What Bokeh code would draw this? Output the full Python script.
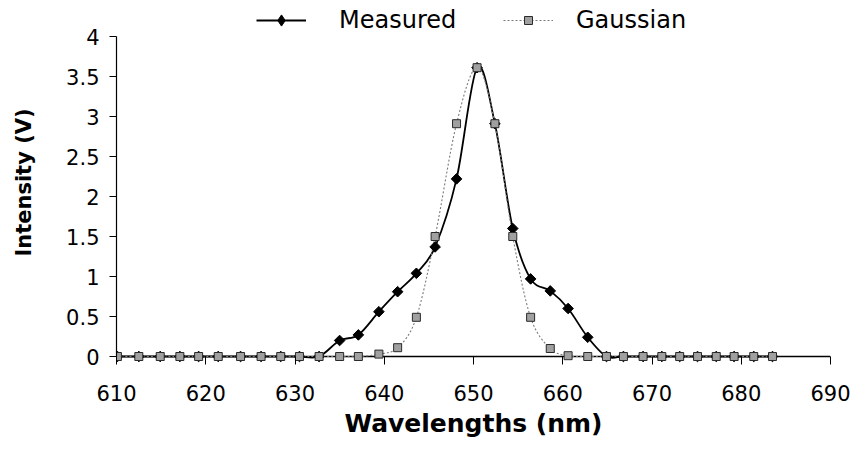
import numpy as np
from bokeh.plotting import figure
from bokeh.models import (Range1d, FixedTicker, NumeralTickFormatter, Legend,
                          LegendItem, ColumnDataSource)
from bokeh.embed import file_html
from bokeh.resources import INLINE

# Emission spectrum: measured intensity and fitted Gaussian (volts vs nm)
wavelength = [610.1, 612.5, 614.9, 617.1, 619.2, 621.4, 623.9, 626.2, 628.4,
              630.5, 632.7, 635.0, 637.1, 639.4, 641.5, 643.6, 645.7, 648.1,
              650.4, 652.4, 654.4, 656.4, 658.6, 660.6, 662.8, 664.9, 666.8,
              669.0, 671.1, 673.1, 675.1, 677.2, 679.2, 681.4, 683.5]
measured = [0, 0, 0, 0, 0, 0, 0, 0, 0, 0, 0, 0.20, 0.27, 0.56, 0.81, 1.04,
            1.37, 2.22, 3.61, 2.91, 1.60, 0.97, 0.82, 0.60, 0.24, 0, 0, 0, 0,
            0, 0, 0, 0, 0, 0]
gaussian = [0, 0, 0, 0, 0, 0, 0, 0, 0, 0, 0, 0, 0, 0.03, 0.11, 0.49, 1.50,
            2.91, 3.61, 2.91, 1.50, 0.49, 0.10, 0.01, 0, 0, 0, 0, 0, 0, 0, 0,
            0, 0, 0]
x_ticks = [610, 620, 630, 640, 650, 660, 670, 680, 690]
y_ticks = [0, 0.5, 1, 1.5, 2, 2.5, 3, 3.5, 4]

FONT = "DejaVu Sans"


def smooth_source(x, y):
    """Cubic Bezier segments (Catmull-Rom style) through the given points."""
    x = np.asarray(x, float)
    y = np.asarray(y, float)
    n = len(x)
    px = np.concatenate([[x[0]], x, [x[-1]]])
    py = np.concatenate([[y[0]], y, [y[-1]]])
    return ColumnDataSource(dict(
        x0=x[:-1], y0=y[:-1], x1=x[1:], y1=y[1:],
        cx0=px[1:n] + (px[2:n + 1] - px[0:n - 1]) / 6,
        cy0=py[1:n] + (py[2:n + 1] - py[0:n - 1]) / 6,
        cx1=px[2:n + 1] - (px[3:n + 2] - px[1:n]) / 6,
        cy1=py[2:n + 1] - (py[3:n + 2] - py[1:n]) / 6,
    ))


# the frame reaches the top edge so the legend can sit inside it
p = figure(width=856, height=452,
           x_range=Range1d(x_ticks[0], x_ticks[-1]), y_range=Range1d(-0.1, 4.45),
           output_backend="svg", toolbar_location=None,
           min_border_left=116, min_border_right=26,
           min_border_top=0, min_border_bottom=88)
p.grid.visible = False
p.outline_line_color = None
p.background_fill_color = "white"
p.border_fill_color = "white"

# horizontal axis line at zero intensity
p.segment(x0=x_ticks[0], x1=x_ticks[-1], y0=0, y1=0,
          line_color="black", line_width=1.5)

# curves
m_curve = p.bezier(x0="x0", y0="y0", x1="x1", y1="y1", cx0="cx0", cy0="cy0",
                   cx1="cx1", cy1="cy1", source=smooth_source(wavelength, measured),
                   line_color="black", line_width=1.8)
g_curve = p.bezier(x0="x0", y0="y0", x1="x1", y1="y1", cx0="cx0", cy0="cy0",
                   cx1="cx1", cy1="cy1", source=smooth_source(wavelength, gaussian),
                   line_color="#7a7a7a", line_width=1.1, line_dash="2 2")

# markers; the small diamonds sit under the rotated squares and give the
# legend its diamond key
m_key = p.scatter(wavelength, measured, marker="diamond", size=6,
                  fill_color="black", line_color="black")
m_pts = p.scatter(wavelength, measured, marker="square", angle=np.pi / 4,
                  size=7.5, fill_color="black", line_color="black")
g_pts = p.scatter(wavelength, gaussian, marker="square", size=8,
                  fill_color="#a0a0a0", line_color="#2a2a2a", line_width=1)

# axes
xa = p.xaxis[0]
xa.ticker = FixedTicker(ticks=x_ticks)
xa.axis_label = "Wavelengths (nm)"
xa.major_tick_in = 8
xa.major_tick_out = 0
ya = p.yaxis[0]
ya.bounds = (0, 4)
ya.ticker = FixedTicker(ticks=y_ticks)
ya.formatter = NumeralTickFormatter(format="0.[0]")
ya.axis_label = "Intensity (V)"
ya.major_tick_in = 0
ya.major_tick_out = 7

for ax in (xa, ya):
    ax.major_tick_line_color = "black"
    ax.minor_tick_line_color = None
    ax.major_label_text_font = FONT
    ax.major_label_text_font_size = "21px"
    ax.major_label_text_color = "black"
    ax.axis_label_text_font = FONT
    ax.axis_label_text_font_style = "bold"
    ax.axis_label_text_color = "black"

xa.axis_line_color = None
xa.major_label_standoff = 20
xa.axis_label_text_font_size = "25px"
xa.axis_label_standoff = 5
ya.axis_line_color = "black"
ya.axis_line_width = 1.2
ya.major_label_standoff = 10
ya.axis_label_text_font_size = "21px"
ya.axis_label_standoff = 27

# legend along the top, one key per series
for label, rends, vx, standoff, gh in (
        ("Measured", [m_curve, m_key], 140, 33, 28),
        ("Gaussian", [g_curve, g_pts], 387, 23, 20)):
    lg = Legend(items=[LegendItem(label=label, renderers=rends)],
                location=(vx, 330), orientation="horizontal",
                glyph_width=50, glyph_height=gh, label_standoff=standoff,
                padding=0, margin=0, spacing=0,
                background_fill_alpha=0, border_line_alpha=0,
                label_text_font=FONT, label_text_font_size="24px",
                label_text_color="black")
    p.add_layout(lg)

open("out.html", "w").write(file_html(p, INLINE))
